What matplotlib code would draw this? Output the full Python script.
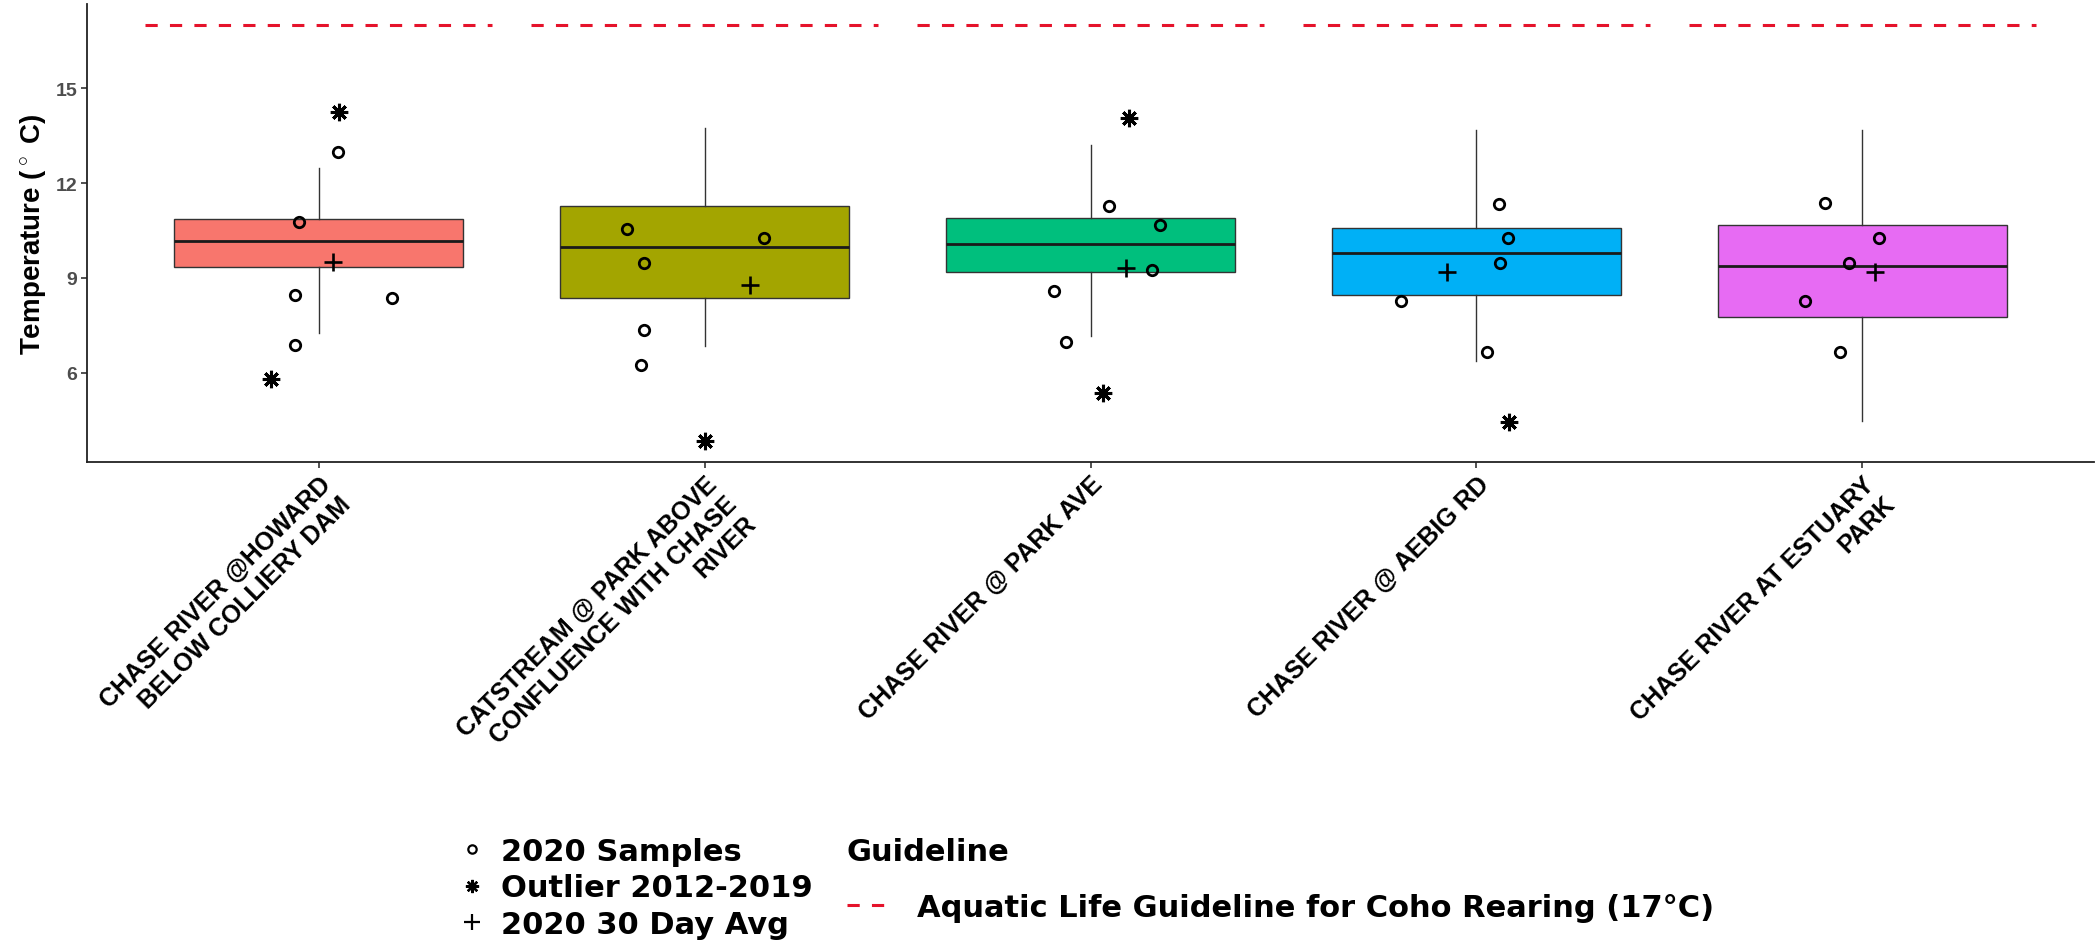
import matplotlib
matplotlib.use("Agg")
import matplotlib.pyplot as plt
from matplotlib.lines import Line2D

# site names (x categories)
sites = [
    "CHASE RIVER @HOWARD\nBELOW COLLIERY DAM",
    "CATSTREAM @ PARK ABOVE\nCONFLUENCE WITH CHASE\nRIVER",
    "CHASE RIVER @ PARK AVE",
    "CHASE RIVER @ AEBIG RD",
    "CHASE RIVER AT ESTUARY\nPARK",
]

# boxplot stats of the 2012-2019 record
box_q1 = [9.36, 8.37, 9.19, 8.47, 7.77]
box_med = [10.17, 9.97, 10.08, 9.78, 9.38]
box_q3 = [10.87, 11.27, 10.88, 10.58, 10.67]
box_lo = [7.26, 6.86, 7.16, 6.37, 4.48]
box_hi = [12.47, 13.75, 13.19, 13.69, 13.69]

# 2020 samples and their jitter (category units)
sample_vals = [
    [12.97, 10.76, 8.46, 8.36, 6.89],
    [10.56, 10.26, 9.47, 7.36, 6.26],
    [11.28, 10.67, 9.26, 8.58, 6.97],
    [11.35, 10.26, 9.47, 8.28, 6.65],
    [11.36, 10.26, 9.47, 8.27, 6.65],
]
sample_jit = [
    [0.05, -0.05, -0.06, 0.19, -0.06],
    [-0.20, 0.155, -0.157, -0.157, -0.164],
    [0.047, 0.18, 0.16, -0.095, -0.063],
    [0.058, 0.083, 0.061, -0.196, 0.028],
    [-0.098, 0.044, -0.036, -0.148, -0.058],
]

# outliers 2012-2019
outlier_vals = [[14.26, 5.82], [3.84], [14.06, 5.35], [4.45], []]
outlier_jit = [[0.052, -0.124], [0.0], [0.10, 0.033], [0.084], []]

# 2020 30 day average
avg_vals = [9.49, 8.77, 9.31, 9.19, 9.19]
avg_jit = [0.038, 0.119, 0.091, -0.077, 0.033]

guideline = 17
fill_colors = ["#F8766D", "#A3A500", "#00BF7D", "#00B0F6", "#E76BF3"]
red = "#E5132B"

plt.rcParams["font.family"] = "Liberation Sans"
plt.rcParams["font.weight"] = "bold"
plt.rcParams["mathtext.fontset"] = "custom"
plt.rcParams["mathtext.rm"] = "Liberation Sans:bold"

fig = plt.figure(figsize=(20.97, 9.45), dpi=100)
ax = fig.add_axes([87 / 2097, 1 - 463 / 945, 2007 / 2097, 458 / 945])

pos = list(range(1, len(sites) + 1))
stats = []
for i in range(len(sites)):
    stats.append(dict(q1=box_q1[i], med=box_med[i], q3=box_q3[i],
                      whislo=box_lo[i], whishi=box_hi[i], fliers=[]))
bp = ax.bxp(stats, positions=pos, widths=0.75, patch_artist=True,
            showcaps=False, showfliers=False,
            boxprops=dict(edgecolor="#333333", linewidth=1.0),
            medianprops=dict(color="#1a1a1a", linewidth=2.0),
            whiskerprops=dict(color="#333333", linewidth=1.0))
for patch, c in zip(bp["boxes"], fill_colors):
    patch.set_facecolor(c)

for i, p in enumerate(pos):
    ax.plot([p + j for j in sample_jit[i]], sample_vals[i], ls="none", marker="o",
            ms=7.5, mfc="none", mec="black", mew=2.0, zorder=4)
    if outlier_vals[i]:
        ax.plot([p + j for j in outlier_jit[i]], outlier_vals[i], ls="none",
                marker=(8, 2, 0), ms=12.5, mec="black", mew=2.2, zorder=4)
    ax.plot([p + avg_jit[i]], [avg_vals[i]], ls="none", marker="+",
            ms=13, mec="black", mew=1.9, zorder=4)
    ax.plot([p - 0.45, p + 0.45], [guideline, guideline], color=red, lw=2.2,
            dashes=(4, 4), zorder=3)

allv = [guideline] + box_lo + box_hi + sum(sample_vals, []) + sum(outlier_vals, []) + avg_vals
lo, hi = min(allv), max(allv)
pad = 0.05 * (hi - lo)
ax.set_ylim(lo - pad, hi + pad)
ax.set_xlim(0.4, len(sites) + 0.6)

ax.spines[["top", "right"]].set_visible(False)
for s in ["left", "bottom"]:
    ax.spines[s].set_linewidth(1.3)
    ax.spines[s].set_color("#222222")

ax.set_yticks([6, 9, 12, 15])
ax.tick_params(axis="y", length=4, width=1.2, color="#333333", labelsize=14,
               labelcolor="#4D4D4D", pad=3)
ax.tick_params(axis="x", length=4, width=1.2, color="#333333", labelsize=18,
               labelcolor="black", pad=3)
ax.set_xticks(pos)
ax.set_xticklabels(sites, rotation=45, ha="right", va="top", rotation_mode="anchor")

ax.set_ylabel(r"Temperature ($^\circ$ C)", fontsize=20, fontweight="bold")
ax.yaxis.set_label_coords(-0.019, 0.5)

leg_font = dict(family="DejaVu Sans", weight="bold", size=22)
h1 = [Line2D([], [], ls="none", marker="o", ms=6, mfc="none", mec="black", mew=1.6),
      Line2D([], [], ls="none", marker=(8, 2, 0), ms=9.5, mec="black", mew=1.7),
      Line2D([], [], ls="none", marker="+", ms=12, mec="black", mew=1.6)]
fig.legend(h1, ["2020 Samples", "Outlier 2012-2019", "2020 30 Day Avg"],
           loc="upper left", bbox_to_anchor=(457 / 2097, 1 - 838 / 945),
           frameon=False, prop=leg_font, handlelength=0.95, handletextpad=0.5,
           labelspacing=0.24, borderpad=0, borderaxespad=0)
fig.legend([Line2D([], [], color=red, lw=2.2, dashes=(4, 4))],
           ["Aquatic Life Guideline for Coho Rearing (17\u00b0C)"],
           title="Guideline", title_fontproperties=leg_font, alignment="left",
           loc="upper left", bbox_to_anchor=(847 / 2097, 1 - 838 / 945),
           frameon=False, prop=leg_font, handlelength=1.25, handletextpad=1.05,
           labelspacing=0.88, borderpad=0, borderaxespad=0)

fig.savefig("out.png", dpi=100)
